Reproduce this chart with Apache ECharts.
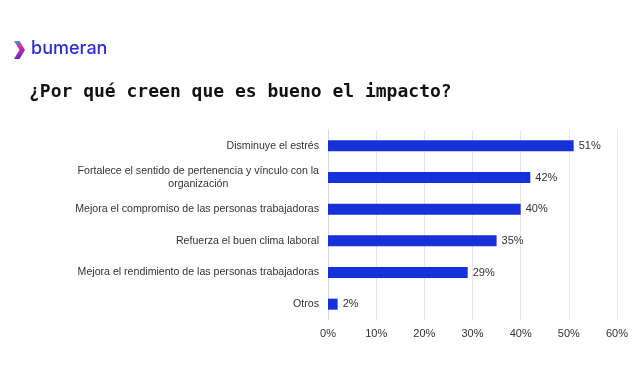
<!DOCTYPE html>
<html><head><meta charset="utf-8">
<script src="https://cdn.jsdelivr.net/npm/echarts@6/dist/echarts.min.js"></script>
<style>html,body{margin:0;padding:0;background:#fff}#c{width:640px;height:374px}</style>
</head><body><div id="c"></div>
<script>
const categories = [
  "Disminuye el estrés",
  "Fortalece el sentido de pertenencia y vínculo con la\norganización",
  "Mejora el compromiso de las personas trabajadoras",
  "Refuerza el buen clima laboral",
  "Mejora el rendimiento de las personas trabajadoras",
  "Otros"
];
const values = [51, 42, 40, 35, 29, 2];
const tickValues = [0, 10, 20, 30, 40, 50, 60];
const titleText = "¿Por qué creen que es bueno el impacto?";
const brandText = "bumeran";

const chart = echarts.init(document.getElementById('c'));
chart.setOption({
  animation: false,
  backgroundColor: '#fff',
  title: {
    text: titleText, left: 24, top: 78,
    textStyle: {fontFamily: 'DejaVu Sans Mono', fontWeight: 'bold', fontSize: 18, color: '#111'}
  },
  graphic: [
    {type: 'polygon', shape: {points: [[14,41],[19.5,41],[25,50],[19.5,59],[14,59],[19.5,50]]},
     style: {fill: new echarts.graphic.LinearGradient(0,0,1,1,[{offset:0,color:'#1aa8ea'},{offset:0.4,color:'#e0289a'},{offset:1,color:'#2a2ae0'}])}},
    {type: 'text', left: 31, top: 40,
     style: {text: brandText, font: '500 18px Inter, sans-serif', fill: '#2b2bd9'}}
  ],
  grid: {left: 328, right: 23, top: 130, bottom: 54, containLabel: false},
  xAxis: {
    type: 'value', min: tickValues[0], max: tickValues[tickValues.length-1], interval: 10,
    axisLine: {show: false}, axisTick: {show: false},
    splitLine: {lineStyle: {color: '#e6e6e6'}},
    axisLabel: {formatter: v => v + '%', color: '#333', fontFamily: 'Liberation Sans, Arial', fontSize: 11, margin: 8}
  },
  yAxis: {
    type: 'category', data: categories, inverse: true,
    axisLine: {show: true, lineStyle: {color: '#d8d8d8'}}, axisTick: {show: false},
    axisLabel: {
      color: '#333', fontFamily: 'Liberation Sans, Arial', fontSize: 10.6, margin: 9, lineHeight: 13,
      formatter: function (v) {
        if (v.indexOf('\n') >= 0) {
          const p = v.split('\n');
          return '{a|' + p[0] + '}\n{c|' + p[1] + '}';
        }
        return v;
      },
      rich: {
        a: {fontFamily: 'Liberation Sans, Arial', fontSize: 10.6, color: '#333', lineHeight: 13},
        c: {fontFamily: 'Liberation Sans, Arial', fontSize: 10.6, color: '#333', lineHeight: 13, width: 240, align: 'center'}
      }
    }
  },
  series: [{
    type: 'bar', data: values, barWidth: 11,
    itemStyle: {color: '#1631d9'},
    label: {show: true, position: 'right', distance: 5, formatter: p => p.value + '%',
      color: '#333', fontFamily: 'Liberation Sans, Arial', fontSize: 11}
  }]
});
</script></body></html>
